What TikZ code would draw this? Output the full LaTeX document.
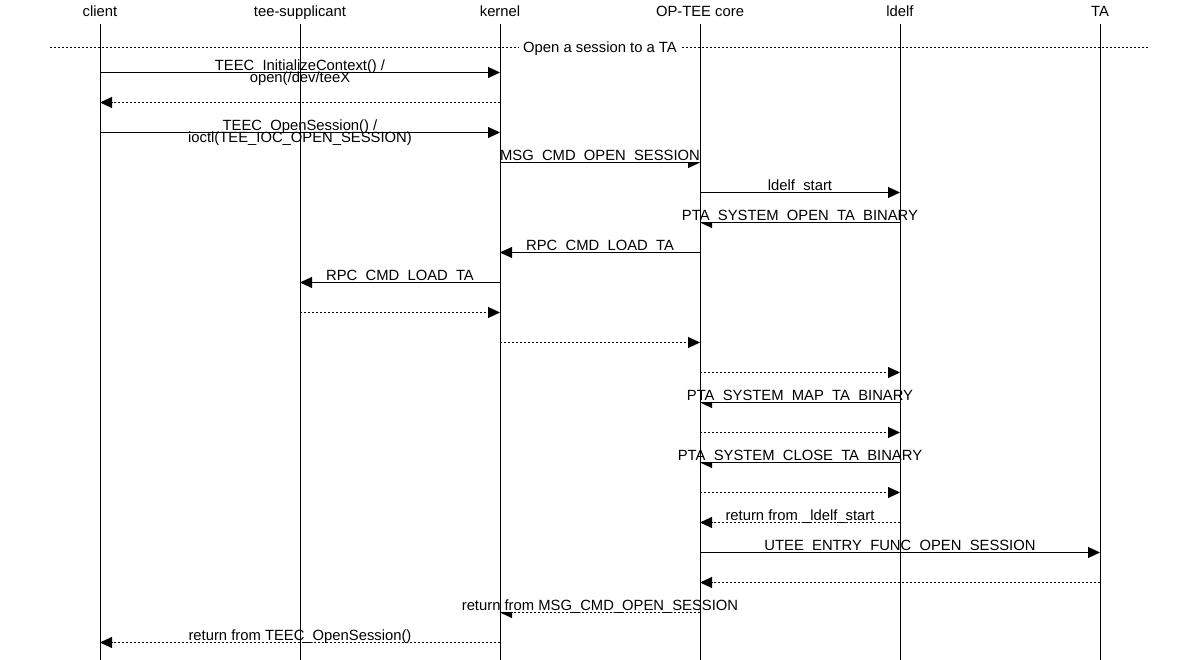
\documentclass[tikz,border=0pt]{standalone}
\usepackage{fontspec}
\setmainfont{Liberation Sans}
\usetikzlibrary{arrows.meta}
\tikzset{
  msg/.style={line width=1pt, -{Triangle[length=12pt,width=11pt]}},
  ret/.style={msg, dash pattern=on 2pt off 2pt},
  lbl/.style={fill=white, inner sep=0pt, text depth=1.4pt, anchor=base},
  head/.style={inner sep=0pt, anchor=base},
}
\begin{document}
\begin{tikzpicture}[x=1pt, y=-1pt, font=\fontsize{14.8}{12}\selectfont]
\useasboundingbox[fill=white] (0,0) rectangle (1200,660);
% heads
\node[head] (client) at (100,17) {client};
\node[head] (supp) at (300,17) {tee-supplicant};
\node[head] (kernel) at (500,17) {kernel};
\node[head] (core) at (700,17) {OP-TEE core};
\node[head] (ldelf) at (900,17) {ldelf};
\node[head] (ta) at (1100,17) {TA};
% separator
\coordinate (sepL) at (50,47.5);
\coordinate (sepR) at (1150,47.5);
\draw[line width=1pt, dash pattern=on 2pt off 2pt] (sepL) -- (sepR)
  node[lbl, midway, inner xsep=4pt, yshift=-5pt] (sep) {Open a session to a TA};
% two line labels
\coordinate (m72a) at (client |- 0,72.5);
\coordinate (m72b) at (kernel |- 0,72.5);
\draw[msg] (m72a) -- (m72b) node[lbl, midway, yshift=2pt] (l72) {TEEC\_InitializeContext() /};
\node[head] (l72x) at ([yshift=-12pt]l72.base) {open(/dev/teeX};
\coordinate (m132a) at (client |- 0,132.5);
\coordinate (m132b) at (kernel |- 0,132.5);
\draw[msg] (m132a) -- (m132b) node[lbl, midway, yshift=2pt] (l132) {TEEC\_OpenSession() /};
\node[head] (l132x) at ([yshift=-12pt]l132.base) {ioctl(TEE\_IOC\_OPEN\_SESSION)};
% messages
\foreach \y/\f/\t/\s/\txt in {
  102/kernel/client/ret/{},
  162/kernel/core/msg/{MSG\_CMD\_OPEN\_SESSION},
  192/core/ldelf/msg/{ldelf\_start},
  222/ldelf/core/msg/{PTA\_SYSTEM\_OPEN\_TA\_BINARY},
  252/core/kernel/msg/{RPC\_CMD\_LOAD\_TA},
  282/kernel/supp/msg/{RPC\_CMD\_LOAD\_TA},
  312/supp/kernel/ret/{},
  342/kernel/core/ret/{},
  372/core/ldelf/ret/{},
  402/ldelf/core/msg/{PTA\_SYSTEM\_MAP\_TA\_BINARY},
  432/core/ldelf/ret/{},
  462/ldelf/core/msg/{PTA\_SYSTEM\_CLOSE\_TA\_BINARY},
  492/core/ldelf/ret/{},
  522/ldelf/core/ret/{return from \_ldelf\_start},
  552/core/ta/msg/{UTEE\_ENTRY\_FUNC\_OPEN\_SESSION},
  582/ta/core/ret/{},
  612/core/kernel/ret/{return from MSG\_CMD\_OPEN\_SESSION},
  642/kernel/client/ret/{return from TEEC\_OpenSession()}}{
  \coordinate (m\y a) at (\f |- 0,\y.5);
  \coordinate (m\y b) at (\t |- 0,\y.5);
  \draw[\s] (m\y a) -- (m\y b) node[lbl, midway, yshift=2pt] (l\y) {\txt};
}
% lifelines
\foreach \n in {client,supp,kernel,core,ldelf,ta}
  \draw[line width=1pt] (\n |- 0,24) -- (\n |- 0,660);
\end{tikzpicture}
\end{document}
